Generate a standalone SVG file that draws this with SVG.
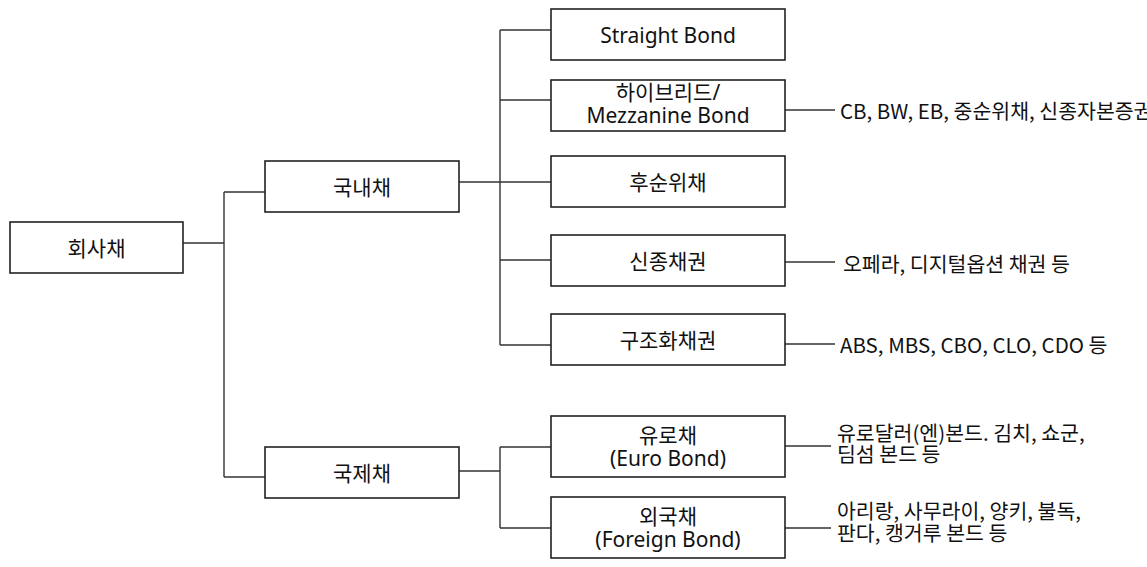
<svg xmlns="http://www.w3.org/2000/svg" width="1147" height="567" viewBox="0 0 1147 567">
<style>
.box{fill:#fff;stroke:#222;stroke-width:1.6}
.lbl{font-family:"Noto Sans","Noto Sans CJK KR",sans-serif;font-size:21px;fill:#111;text-anchor:middle;dominant-baseline:central}
.side{font-family:"Noto Sans CJK KR",sans-serif;font-size:20.5px;fill:#111;dominant-baseline:central}
.conn path{fill:none;stroke:#333;stroke-width:1.4}
</style>
<rect width="1147" height="567" fill="#fff"/>
<g class="conn" id="connectors">
<path d="M183 243H224M224 192V477M224 192H265M224 477H265"/>
<path d="M459 182H500M500 30V345M500 30H551M500 100H551M500 182H551M500 260H551M500 345H551"/>
<path d="M459 471H500M500 447V528M500 447H551M500 528H551"/>
<path d="M785 110H835M785 262H835M785 344H835M785 446H831M785 528H831"/>
</g>
<g id="n0"><rect class="box" x="10" y="222" width="173" height="51"/><text class="lbl" x="96.5" y="248">회사채</text></g>
<g id="n1"><rect class="box" x="265" y="161" width="194" height="51"/><text class="lbl" x="362" y="187">국내채</text></g>
<g id="n2"><rect class="box" x="265" y="447" width="194" height="51"/><text class="lbl" x="362" y="473">국제채</text></g>
<g id="n3"><rect class="box" x="551" y="9" width="234" height="51"/><text class="lbl" x="668" y="35">Straight Bond</text></g>
<g id="n4"><rect class="box" x="551" y="80" width="234" height="51"/><text class="lbl" x="668" y="92">하이브리드/</text><text class="lbl" x="668" y="115">Mezzanine Bond</text></g>
<g id="n5"><rect class="box" x="551" y="156" width="234" height="51"/><text class="lbl" x="668" y="182">후순위채</text></g>
<g id="n6"><rect class="box" x="551" y="235" width="234" height="51"/><text class="lbl" x="668" y="261">신종채권</text></g>
<g id="n7"><rect class="box" x="551" y="314" width="234" height="51"/><text class="lbl" x="668" y="340">구조화채권</text></g>
<g id="n8"><rect class="box" x="551" y="416" width="234" height="61"/><text class="lbl" x="668" y="435">유로채</text><text class="lbl" x="668" y="458">(Euro Bond)</text></g>
<g id="n9"><rect class="box" x="551" y="497" width="234" height="61"/><text class="lbl" x="668" y="516">외국채</text><text class="lbl" x="668" y="539">(Foreign Bond)</text></g>
<g id="notes">
<text class="side" x="840" y="110">CB, BW, EB, 중순위채, 신종자본증권</text>
<text class="side" x="843" y="263">오페라, 디지털옵션 채권 등</text>
<text class="side" x="840" y="344">ABS, MBS, CBO, CLO, CDO 등</text>
<text class="side" x="837" y="432">유로달러(엔)본드. 김치, 쇼군,</text>
<text class="side" x="837" y="453">딤섬 본드 등</text>
<text class="side" x="837" y="510">아리랑, 사무라이, 양키, 불독,</text>
<text class="side" x="837" y="532">판다, 캥거루 본드 등</text>
</g>
</svg>
